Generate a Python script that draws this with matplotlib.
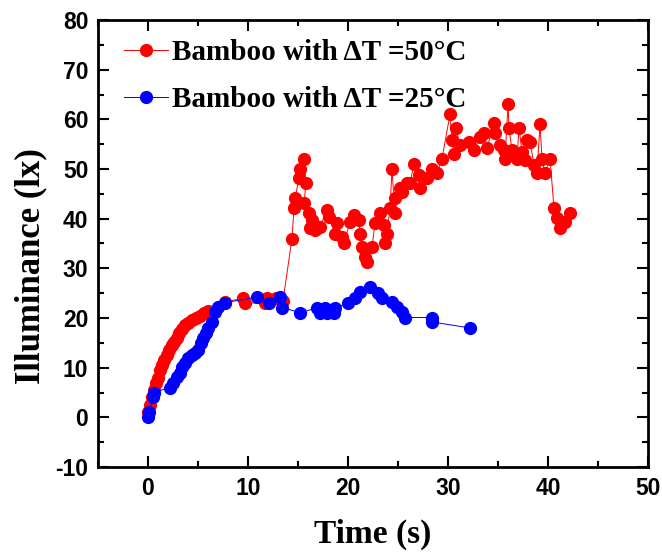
import matplotlib
matplotlib.use("Agg")
import matplotlib.pyplot as plt

plt.rcParams["axes.unicode_minus"] = False

# red: bamboo, dT = 50 C
red_t = [0.0, 0.2, 0.4, 0.6, 0.8, 1.0, 1.2, 1.4, 1.6, 1.9, 2.1, 2.4, 2.6, 2.9, 3.1, 3.4,
         3.7, 4.0, 4.4, 4.8, 5.2, 5.6, 6.0, 7.7, 9.5, 9.7, 11.7, 11.9, 12.8, 13.5,
         14.4, 14.6, 14.7, 15.1, 15.2, 15.6, 15.8, 15.6, 16.1, 16.2, 16.4, 16.7, 17.2,
         17.9, 18.1, 18.7, 18.9, 19.4, 19.6, 20.2, 20.6, 21.1, 21.2, 21.4, 21.7, 21.9,
         22.4, 22.7, 23.2, 23.6, 23.7, 23.9, 24.2, 24.4, 24.7, 24.7, 25.2, 25.4, 25.9,
         26.2, 26.6, 27.1, 27.2, 27.9, 28.4, 28.9, 29.4, 30.2, 30.4, 30.6, 30.8, 31.2,
         32.1, 32.6, 33.2, 33.6, 33.9, 34.6, 34.7, 35.2, 35.6, 35.7, 36.0, 36.1, 36.4,
         36.9, 37.1, 37.4, 37.7, 37.9, 38.2, 38.6, 38.9, 39.2, 39.4, 39.7, 40.2, 40.6,
         40.9, 41.2, 41.7, 42.2]
red_lux = [1.0, 2.5, 4.0, 5.5, 7.0, 8.0, 9.5, 10.5, 11.5, 12.5, 13.5, 14.5, 15.2, 16.0, 17.0, 17.8,
           18.5, 19.0, 19.5, 20.0, 20.5, 21.0, 21.5, 23.2, 24.0, 23.0, 23.0, 24.0, 24.0, 23.5,
           36.0, 42.1, 44.1, 48.1, 50.1, 52.1, 47.1, 43.1, 41.1, 38.1, 39.7, 37.7, 38.4,
           41.7, 40.4, 37.0, 39.1, 36.4, 35.0, 39.4, 40.7, 39.7, 37.0, 34.3, 32.3, 31.3,
           34.3, 39.1, 41.1, 38.7, 35.0, 37.0, 42.1, 49.9, 41.1, 44.1, 46.1, 45.4, 47.1,
           47.1, 51.1, 48.8, 46.1, 48.1, 50.1, 49.1, 52.1, 61.0, 55.8, 53.1, 58.2, 54.8,
           55.5, 53.8, 56.5, 57.2, 54.2, 59.2, 57.2, 54.8, 53.8, 52.1, 63.0, 58.2, 53.8,
           52.1, 58.2, 53.5, 51.8, 55.8, 55.5, 50.8, 49.1, 59.0, 52.1, 49.1, 52.1, 42.1,
           40.1, 38.1, 39.4, 41.1]

# blue: bamboo, dT = 25 C
blue_t = [0.0, 0.1, 0.5, 0.6, 2.2, 2.5, 2.9, 3.2, 3.4, 3.7, 4.0, 4.4, 4.7, 5.0, 5.3, 5.5,
          5.8, 6.0, 6.4, 6.7, 7.0, 7.7, 10.9, 12.1, 13.2, 13.4, 15.2, 16.9, 17.2, 17.7,
          17.9, 18.6, 18.7, 20.0, 20.7, 21.2, 22.2, 23.0, 23.4, 24.4, 24.9, 25.4, 25.7,
          28.4, 28.4, 32.2]
blue_lux = [0.0, 1.0, 4.0, 5.0, 6.0, 7.0, 8.2, 9.0, 10.2, 11.0, 11.9, 12.5, 13.0, 13.5, 15.0, 16.0,
            17.0, 18.0, 19.2, 21.3, 22.3, 23.1, 24.2, 23.1, 24.2, 22.1, 21.1, 22.0, 21.0, 22.0,
            21.0, 21.0, 22.0, 23.0, 24.0, 25.2, 26.2, 25.0, 24.0, 23.3, 22.3, 21.3, 20.1,
            20.1, 19.2, 18.0]

labels = ["Bamboo with \u0394T =50\u00b0C", "Bamboo with \u0394T =25\u00b0C"]

serif = "Liberation Serif"
sans = "Liberation Sans"

fig = plt.figure(figsize=(6.62, 5.55), dpi=100)
ax = fig.add_axes([98 / 662, 1 - 467 / 555, 550 / 662, 447 / 555])

ax.plot(red_t, red_lux, "-o", color="red", lw=0.7, ms=8.5, label=labels[0])
ax.plot(blue_t, blue_lux, "-o", color="blue", lw=0.7, ms=8.5, label=labels[1])

ax.set_xlim(-5, 50)
ax.set_ylim(-10, 80)
ax.set_xticks(range(0, 51, 10))
ax.set_yticks(range(-10, 81, 10))
ax.set_xticks(range(-5, 51, 5), minor=True)
ax.set_yticks(range(-10, 81, 5), minor=True)

ax.tick_params(which="both", direction="in", top=True, right=True, width=1.5)
ax.tick_params(which="major", length=8, pad=7)
ax.tick_params(which="minor", length=4)
for lab in ax.get_xticklabels() + ax.get_yticklabels():
    lab.set_fontfamily(sans)
    lab.set_fontweight("bold")
    lab.set_fontsize(16.5)
for s in ax.spines.values():
    s.set_linewidth(2)

ax.set_xlabel("Time (s)", fontfamily=serif, fontweight="bold", fontsize=24, labelpad=14)
ax.set_ylabel("Illuminance (lx)", fontfamily=serif, fontweight="bold", fontsize=25)
ax.yaxis.set_label_coords(-0.093, 0.45)

ax.legend(loc="upper left", bbox_to_anchor=(0.021, 0.99), frameon=False,
          prop={"family": serif, "weight": "bold", "size": 21},
          handlelength=1.5, handletextpad=0.15, labelspacing=0.7, borderpad=0)

fig.savefig("out.png", dpi=100)
